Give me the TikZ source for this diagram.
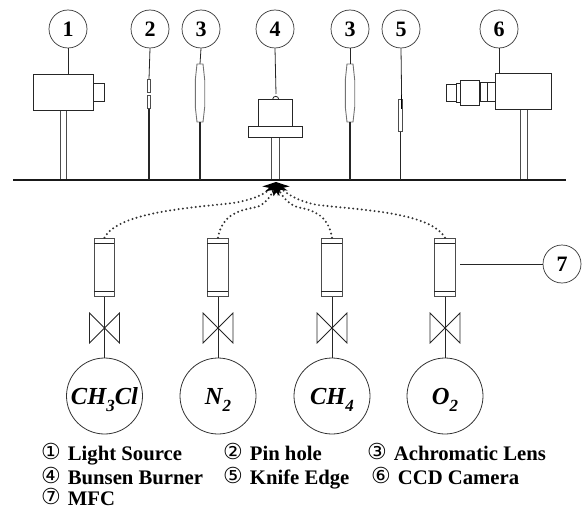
\documentclass[tikz,border=0pt]{standalone}
\usepackage{fontspec}
\setmainfont{Liberation Serif}
\newfontfamily\circfont{DejaVu Sans}
\usepackage{tikz}
\usetikzlibrary{arrows.meta}
\tikzstyle{part}=[shape=rectangle,draw=black!85,line width=0.8pt,fill=white,inner sep=0pt]
\tikzstyle{post}=[part,draw=black!70]
\tikzstyle{pin}=[part,draw=black!70,minimum width=3pt,minimum height=13pt]
\tikzstyle{lens}=[draw=black!55,line width=0.9pt,fill=white]
\tikzstyle{mfc}=[part,draw=black!70,line width=1pt,minimum width=20.5pt,minimum height=58.5pt]
\tikzstyle{num}=[shape=circle,draw=black!80,line width=0.7pt,minimum size=38pt,inner sep=0pt,font=\fontsize{22}{22}\selectfont\bfseries]
\tikzstyle{gas}=[shape=circle,draw=black!80,line width=0.8pt,minimum size=76pt,inner sep=0pt,text height=16pt,text depth=0pt,font=\fontsize{24.5}{25}\selectfont\bfseries\itshape]
\tikzstyle{legend}=[anchor=base west,inner sep=0pt,font=\fontsize{20.7}{21}\selectfont\bfseries]
\tikzstyle{lead}=[draw=black!85,line width=0.8pt]
\tikzstyle{rod}=[draw=black!85,line width=1.2pt]
\tikzstyle{gasedge}=[draw=black!80,line width=2.2pt,line cap=round,dash pattern=on 0pt off 4.3pt,-{Stealth[length=12pt,width=15pt,black]}]
\newcommand{\gassub}[1]{\raisebox{-7pt}{\fontsize{17}{17}\selectfont #1}}
\newcommand{\circnum}[1]{\raisebox{1pt}{\circfont\mdseries\fontsize{22}{22}\selectfont #1}\hspace{7pt}}
\begin{document}
\begin{tikzpicture}[x=1pt,y=-1pt]

\useasboundingbox (0,0) rectangle (583,508);

\coordinate (BL) at (13,180);
\coordinate (BR) at (566,180);
\coordinate (TIP) at (276,182);
\coordinate (L7) at (460,264);
\coordinate (Nozzle) at (276,94);
\coordinate (Lens1T) at (200,64);
\coordinate (Lens1B) at (200,122);
\coordinate (Lens2T) at (350,64);
\coordinate (Lens2B) at (350,122);

% numbered circles
\node[num] (N1) at (68,29) {1};
\node[num] (N2) at (150,29) {2};
\node[num] (N3) at (201,29) {3};
\node[num] (N4) at (275,29) {4};
\node[num] (N3b) at (350,29) {3};
\node[num] (N5) at (401,29) {5};
\node[num] (N6) at (499,29) {6};
\node[num] (N7) at (562,264) {7};

% light source
\node[post,minimum width=6.4pt,minimum height=70pt] (Post1) at (63.5,145) {};
\node[part,minimum width=11pt,minimum height=18pt] (Snout) at (98.5,92) {};
\node[part,minimum width=60pt,minimum height=36pt] (Source) at (63.5,92) {};

% pin hole
\node[pin] (Pin1) at (149,86) {};
\node[pin] (Pin2) at (149,102) {};

% lenses
\draw[lens] (197,64) -- (203,64) -- (204.7,80) -- (204.7,107) -- (203,122) -- (197,122) -- (195.3,107) -- (195.3,80) -- cycle;
\draw[lens] (347,64) -- (353,64) -- (354.7,80) -- (354.7,107) -- (353,122) -- (347,122) -- (345.3,107) -- (345.3,80) -- cycle;

% burner
\node[post,minimum width=8pt,minimum height=43pt] (Stem) at (275.2,158.5) {};
\draw[part] (272.7,99.3) arc (180:360:3);
\node[part,minimum width=33.7pt,minimum height=27pt] (Body) at (275.2,112.8) {};
\node[part,minimum width=54pt,minimum height=11.4pt] (Plate) at (275.3,132) {};

% knife edge
\node[post,minimum width=3.6pt,minimum height=32.5pt] (Knife) at (400.5,115.5) {};
\node[shape=rectangle,fill=black,inner sep=0pt,minimum width=1.4pt,minimum height=14pt] (Blade) at (401.6,102) {};

% camera
\node[post,minimum width=7pt,minimum height=71pt] (Post6) at (524,144.5) {};
\node[part,minimum width=56.5pt,minimum height=36pt] (Camera) at (523.2,91) {};
\node[part,minimum width=7.5pt,minimum height=18.5pt] (Ring1) at (491.2,92) {};
\node[part,minimum width=7.5pt,minimum height=19pt] (Ring2) at (483.8,92) {};
\node[part,minimum width=19pt,minimum height=25pt] (Barrel) at (470,92.5) {};
\node[part,minimum width=3.5pt,minimum height=19pt] (Ring3) at (458.2,92.5) {};
\node[part,minimum width=10pt,minimum height=17pt] (Front) at (451.5,92.5) {};

% flow controllers
\node[mfc] (MFC1) at (104.5,267.5) {};
\node[mfc] (MFC2) at (218,267.5) {};
\node[mfc] (MFC3) at (332,267.5) {};
\node[mfc] (MFC4) at (445,267.5) {};

% gases
\node[gas] (G1) at (104.5,396) {CH\gassub{3}Cl};
\node[gas] (G2) at (218,396) {N\gassub{2}};
\node[gas] (G3) at (332,396) {CH\gassub{4}};
\node[gas] (G4) at (445,396) {O\gassub{2}};

% valves
\draw[lead] (89.5,313) -- (119.5,343) -- (119.5,313) -- (89.5,343) -- cycle;
\draw[lead] (203,313) -- (233,343) -- (233,313) -- (203,343) -- cycle;
\draw[lead] (317,313) -- (347,343) -- (347,313) -- (317,343) -- cycle;
\draw[lead] (430,313) -- (460,343) -- (460,313) -- (430,343) -- cycle;

\draw[line width=1.7pt,black!90] (BL) -- (BR);

\path[lead]
(N1.south) edge (N1.south |- Source.north)
(N2.south) edge (Pin1.north)
(N3.south) edge (Lens1T)
(N4.south) edge (Nozzle)
(N3b.south) edge (Lens2T)
(N5.south) edge (Blade.north)
(N6.south) edge (N6.south |- Camera.north)
(N7.west) edge (L7)
(MFC1.south) edge (G1.north)
(MFC2.south) edge (G2.north)
(MFC3.south) edge (G3.north)
(MFC4.south) edge (G4.north);

\path[rod]
(Pin2.south) edge (Pin2.south |- BL)
(Lens1B) edge (Lens1B |- BL)
(Lens2B) edge (Lens2B |- BL)
(Knife.south) edge (Knife.south |- BL);

% bands inside the flow controllers
\draw[lead] (MFC1.north west) ++(0,6) -- ++(20.5,0) (MFC1.south west) ++(0,-6) -- ++(20.5,0);
\draw[lead] (MFC2.north west) ++(0,6) -- ++(20.5,0) (MFC2.south west) ++(0,-6) -- ++(20.5,0);
\draw[lead] (MFC3.north west) ++(0,6) -- ++(20.5,0) (MFC3.south west) ++(0,-6) -- ++(20.5,0);
\draw[lead] (MFC4.north west) ++(0,6) -- ++(20.5,0) (MFC4.south west) ++(0,-6) -- ++(20.5,0);

% gas lines
\draw[gasedge] (MFC1.north) .. controls (118,212) and (190,208) .. (233,203) .. controls (252,200) and (266,194) .. (TIP);
\draw[gasedge] (MFC2.north) .. controls (222,214) and (240,210) .. (257,207) .. controls (265,204) and (272,195) .. (TIP);
\draw[gasedge] (MFC3.north) .. controls (328,214) and (312,210) .. (297,207) .. controls (288,204) and (281,195) .. (TIP);
\draw[gasedge] (MFC4.north) .. controls (430,212) and (360,210) .. (318,205) .. controls (300,202) and (286,194) .. (TIP);

% legend
\node[legend] (Leg1) at (41,460) {\circnum{①}Light Source};
\node[legend] (Leg2) at (223,460) {\circnum{②}Pin hole};
\node[legend] (Leg3) at (367,460) {\circnum{③}Achromatic Lens};
\node[legend] (Leg4) at (41,484) {\circnum{④}Bunsen Burner};
\node[legend] (Leg5) at (223,484) {\circnum{⑤}Knife Edge};
\node[legend] (Leg6) at (371,484) {\circnum{⑥}CCD Camera};
\node[legend] (Leg7) at (41,505) {\circnum{⑦}MFC};

\end{tikzpicture}
\end{document}
